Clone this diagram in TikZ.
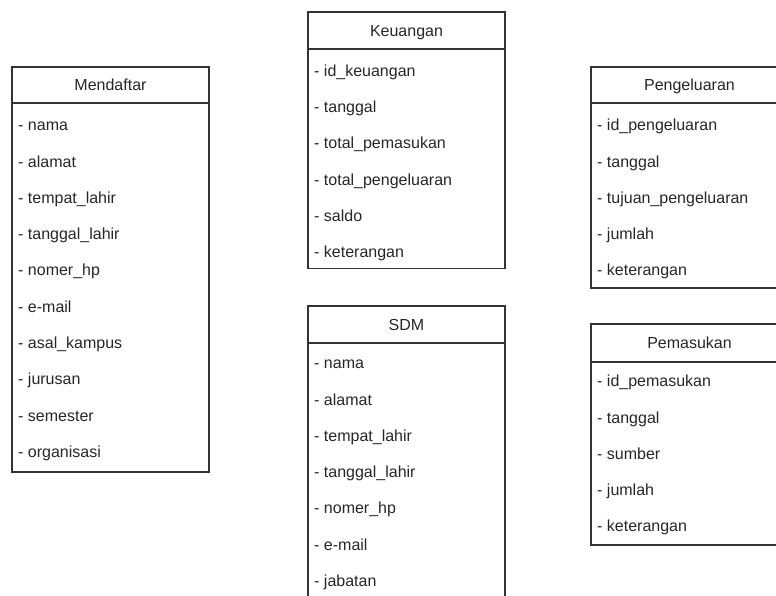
\documentclass[tikz,border=0pt]{standalone}
\usepackage{fontspec}
\setmainfont{Liberation Sans}

\begin{document}
\begin{tikzpicture}[x=1pt,y=-1pt,
  box/.style={draw=black!80,line width=1.2pt},
  title/.style={font=\fontsize{16}{19}\selectfont,text=black!85,inner sep=0pt,text height=11.5pt,text depth=0pt},
  attr/.style={anchor=west,font=\fontsize{16}{19}\selectfont,text=black!85,inner sep=0pt,text height=11.5pt,text depth=0pt}]
  \useasboundingbox (0,0) rectangle (776,595);

  % Mendaftar
  \draw[box] (12,67) rectangle (209,472);
  \draw[box] (12,103) -- (209,103);
  \node[title] (mendaftar) at (110.5,85) {Mendaftar};
  \node[attr] (m1) at (18,125) {- nama};
  \node[attr] (m2) at (18,161.3) {- alamat};
  \node[attr] (m3) at (18,197.6) {- tempat\_lahir};
  \node[attr] (m4) at (18,233.9) {- tanggal\_lahir};
  \node[attr] (m5) at (18,270.2) {- nomer\_hp};
  \node[attr] (m6) at (18,306.5) {- e-mail};
  \node[attr] (m7) at (18,342.8) {- asal\_kampus};
  \node[attr] (m8) at (18,379.1) {- jurusan};
  \node[attr] (m9) at (18,415.4) {- semester};
  \node[attr] (m10) at (18,451.7) {- organisasi};

  % Keuangan
  \draw[box] (308,12) rectangle (505,268.5);
  \draw[box] (308,49) -- (505,49);
  \node[title] (keuangan) at (406.5,30.5) {Keuangan};
  \node[attr] (k1) at (314,70.5) {- id\_keuangan};
  \node[attr] (k2) at (314,106.8) {- tanggal};
  \node[attr] (k3) at (314,143.1) {- total\_pemasukan};
  \node[attr] (k4) at (314,179.4) {- total\_pengeluaran};
  \node[attr] (k5) at (314,215.7) {- saldo};
  \node[attr] (k6) at (314,252) {- keterangan};

  % SDM
  \draw[box] (308,306) rectangle (505,600);
  \draw[box] (308,343) -- (505,343);
  \node[title] (sdm) at (406.5,324.5) {SDM};
  \node[attr] (s1) at (314,363) {- nama};
  \node[attr] (s2) at (314,399.3) {- alamat};
  \node[attr] (s3) at (314,435.6) {- tempat\_lahir};
  \node[attr] (s4) at (314,471.9) {- tanggal\_lahir};
  \node[attr] (s5) at (314,508.2) {- nomer\_hp};
  \node[attr] (s6) at (314,544.5) {- e-mail};
  \node[attr] (s7) at (314,580.8) {- jabatan};

  % Pengeluaran
  \draw[box] (591,67) rectangle (788,288);
  \draw[box] (591,103) -- (788,103);
  \node[title] (pengeluaran) at (689.5,85) {Pengeluaran};
  \node[attr] (p1) at (597,125) {- id\_pengeluaran};
  \node[attr] (p2) at (597,161.3) {- tanggal};
  \node[attr] (p3) at (597,197.6) {- tujuan\_pengeluaran};
  \node[attr] (p4) at (597,233.9) {- jumlah};
  \node[attr] (p5) at (597,270.2) {- keterangan};

  % Pemasukan
  \draw[box] (591,324) rectangle (788,545);
  \draw[box] (591,362) -- (788,362);
  \node[title] (pemasukan) at (689.5,343) {Pemasukan};
  \node[attr] (q1) at (597,381) {- id\_pemasukan};
  \node[attr] (q2) at (597,417.3) {- tanggal};
  \node[attr] (q3) at (597,453.6) {- sumber};
  \node[attr] (q4) at (597,489.9) {- jumlah};
  \node[attr] (q5) at (597,526.2) {- keterangan};
\end{tikzpicture}
\end{document}
